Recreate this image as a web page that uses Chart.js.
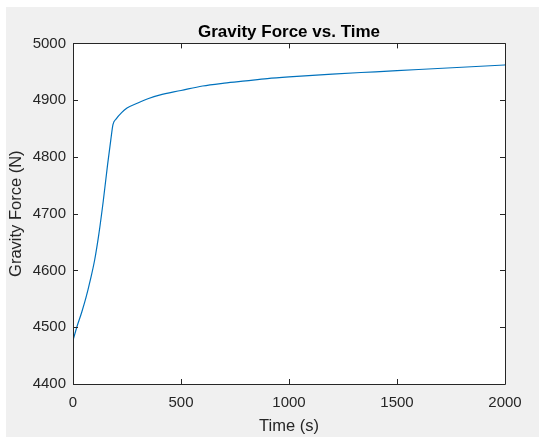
<!DOCTYPE html>
<html>
<head>
<meta charset="utf-8">
<script src="https://cdn.jsdelivr.net/npm/chart.js@4.4.1/dist/chart.umd.min.js"></script>
<style>
  html, body { margin: 0; padding: 0; background: #ffffff; }
  #wrap { position: relative; width: 539px; height: 437px; }
  canvas { display: block; }
</style>
</head>
<body>
<div id="wrap"><canvas id="gravityChart" width="539" height="437"></canvas></div>
<script>
// values
const timeValues = [0, 20, 40, 60, 80, 100, 120, 140, 160, 175, 185, 200, 225, 250, 300, 350, 400, 500, 600, 700, 800, 900, 1000, 1200, 1400, 1600, 1800, 2000];
const forceValues = [4477, 4503, 4526, 4552, 4583, 4618, 4665, 4722, 4786, 4830, 4857, 4867, 4878, 4886, 4895, 4903, 4909, 4917, 4925, 4930, 4934, 4938, 4941, 4946, 4950, 4954, 4958, 4962];
const xTicks = [0, 500, 1000, 1500, 2000];
const yTicks = [4400, 4500, 4600, 4700, 4800, 4900, 5000];

const axisColor = '#262626';
const tickFont = { family: 'Liberation Sans, Arial, sans-serif', size: 15 };

// figure background, white axes box, box outline and inward ticks (matlab style)
const matlabAxes = {
    id: 'matlabAxes',
    beforeDraw(chart) {
        const ctx = chart.ctx;
        const a = chart.chartArea;
        ctx.save();
        ctx.fillStyle = '#f0f0f0';
        ctx.fillRect(6, 7, chart.width - 6, chart.height - 7);
        ctx.fillStyle = '#ffffff';
        ctx.fillRect(a.left, a.top, a.right - a.left, a.bottom - a.top);
        ctx.restore();
    },
    afterDraw(chart) {
        const ctx = chart.ctx;
        const a = chart.chartArea;
        const xs = chart.scales.x, ys = chart.scales.y;
        const len = 5;
        ctx.save();
        ctx.strokeStyle = axisColor;
        ctx.lineWidth = 1;
        ctx.beginPath();
        ctx.rect(Math.round(a.left) + 0.5, Math.round(a.top) + 0.5, Math.round(a.right - a.left), Math.round(a.bottom - a.top));
        xTicks.forEach(v => {
            const px = Math.round(xs.getPixelForValue(v)) + 0.5;
            ctx.moveTo(px, a.bottom); ctx.lineTo(px, a.bottom - len);
            ctx.moveTo(px, a.top); ctx.lineTo(px, a.top + len);
        });
        yTicks.forEach(v => {
            const py = Math.round(ys.getPixelForValue(v)) + 0.5;
            ctx.moveTo(a.left, py); ctx.lineTo(a.left + len, py);
            ctx.moveTo(a.right, py); ctx.lineTo(a.right - len, py);
        });
        ctx.stroke();
        ctx.restore();
    }
};

let ctx = document.getElementById('gravityChart').getContext('2d');
new Chart(ctx, {
    type: 'line',
    data: {
        datasets: [{
            label: 'Gravity Force',
            data: timeValues.map((t, i) => ({ x: t, y: forceValues[i] })),
            borderColor: '#0072BD',
            borderWidth: 1.2,
            pointRadius: 0,
            fill: false,
            cubicInterpolationMode: 'monotone'
        }]
    },
    options: {
        responsive: false,
        animation: false,
        layout: { padding: { left: 0, right: 34, top: 0, bottom: 0 } },
        plugins: {
            legend: { display: false },
            tooltip: { enabled: false },
            title: {
                display: true,
                text: 'Gravity Force vs. Time',
                fullSize: false,
                color: '#000000',
                font: { family: 'Liberation Sans, Arial, sans-serif', size: 17, weight: 'bold' },
                padding: { top: 22, bottom: 1 }
            }
        },
        scales: {
            x: {
                type: 'linear',
                min: 0,
                max: 2000,
                afterBuildTicks: s => { s.ticks = xTicks.map(v => ({ value: v })); },
                afterFit: s => { s.height = 53; },
                grid: { display: false, drawTicks: false },
                border: { display: false },
                ticks: {
                    color: axisColor,
                    font: tickFont,
                    padding: 10,
                    maxRotation: 0,
                    callback: v => String(v)
                },
                title: {
                    display: true,
                    text: 'Time (s)',
                    color: axisColor,
                    font: { family: 'Liberation Sans, Arial, sans-serif', size: 16.5 },
                    padding: { top: 0, bottom: 1 }
                }
            },
            y: {
                type: 'linear',
                min: 4400,
                max: 5000,
                afterBuildTicks: s => { s.ticks = yTicks.map(v => ({ value: v })); },
                afterFit: s => { s.width = 73; },
                grid: { display: false, drawTicks: false },
                border: { display: false },
                ticks: {
                    color: axisColor,
                    font: tickFont,
                    padding: 7,
                    callback: v => String(v)
                },
                title: {
                    display: true,
                    text: 'Gravity Force (N)',
                    color: axisColor,
                    font: { family: 'Liberation Sans, Arial, sans-serif', size: 16.5 },
                    padding: { top: 7, bottom: 0 }
                }
            }
        }
    },
    plugins: [matlabAxes]
});
</script>
</body>
</html>
